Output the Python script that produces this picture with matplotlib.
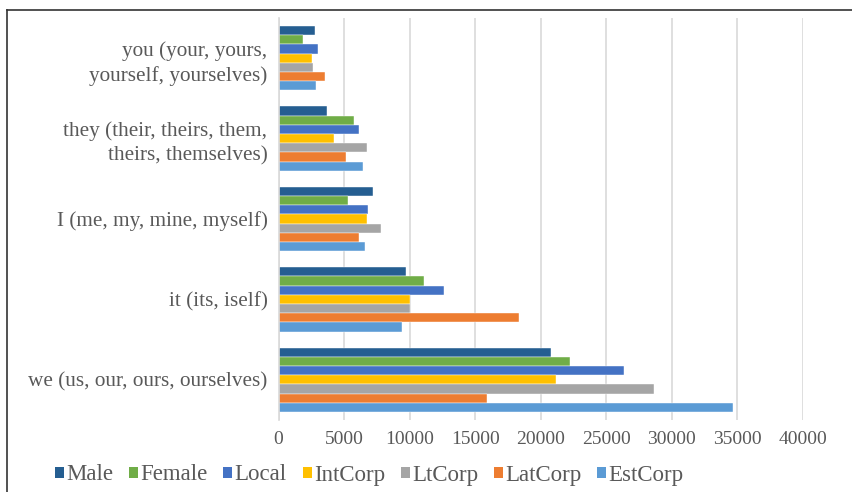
import matplotlib.pyplot as plt
import numpy as np
from matplotlib.lines import Line2D
from matplotlib.patches import Patch

plt.rcParams['font.family'] = ['Liberation Serif', 'DejaVu Serif']

# categories bottom to top
categories = ["we (us, our, ours, ourselves)", "it (its, iself)",
              "I (me, my, mine, myself)",
              "they (their, theirs, them,\ntheirs, themselves)",
              "you (your, yours,\nyourself, yourselves)"]

series = ["Male", "Female", "Local", "IntCorp", "LtCorp", "LatCorp", "EstCorp"]
colors = ["#255e91", "#70ad47", "#4472c4", "#ffc000", "#a5a5a5", "#ed7d31", "#5b9bd5"]

male    = [20830, 9730, 7240, 3700, 2810]
female  = [22240, 11100, 5280, 5760, 1890]
local   = [26400, 12630, 6860, 6150, 3040]
intcorp = [21170, 10060, 6730, 4210, 2580]
ltcorp  = [28660, 10060, 7800, 6760, 2630]
latcorp = [15890, 18380, 6150, 5150, 3570]
estcorp = [34680, 9450, 6600, 6470, 2860]
values = [male, female, local, intcorp, ltcorp, latcorp, estcorp]

fig = plt.figure(figsize=(8.52, 4.92), dpi=100)
ax = fig.add_axes([0.327, 0.1463, 0.615, 0.817])

n = len(series)
h = 0.8 / n
y = np.arange(len(categories))
for i, (name, vals, c) in enumerate(zip(series, values, colors)):
    # first series on top within each group
    ax.barh(y + 0.4 - h * (i + 0.5), vals, height=h, color=c, label=name,
            edgecolor='white', linewidth=0.3)

ax.set_xlim(0, 40000)
ax.set_ylim(-0.5, len(categories) - 0.5)
ax.set_xticks(np.arange(0, 40001, 5000))
ax.set_yticks(y)
ax.set_yticklabels(categories, ha='right', multialignment='right', fontsize=15.3,
                   linespacing=1.35)
ax.tick_params(axis='both', length=0, colors='#595959', pad=8)
ax.tick_params(axis='x', pad=8, labelsize=14)
ax.grid(axis='x', color='#d9d9d9', linewidth=1.2)
ax.set_axisbelow(True)
for s in ['top', 'right', 'bottom']:
    ax.spines[s].set_visible(False)
ax.spines['left'].set_color('#d9d9d9')
ax.spines['left'].set_linewidth(1.2)

handles = [Patch(facecolor=c, edgecolor='none') for c in colors]
fig.legend(handles, series, loc='center left', bbox_to_anchor=(55 / 852, 1 - 475 / 492),
           ncol=7, frameon=False, fontsize=16.5, handlelength=0.4, handleheight=0.4,
           handletextpad=0.1, columnspacing=0.68, borderpad=0, borderaxespad=0,
           labelcolor='#595959')

# outer frame lines (top and left)
fig.add_artist(Line2D([7 / 852, 1], [1 - 10 / 492, 1 - 10 / 492], color='#333333', linewidth=1.2))
fig.add_artist(Line2D([7 / 852, 7 / 852], [0, 1 - 10 / 492], color='#333333', linewidth=1.2))

fig.savefig('out.png', dpi=100)
